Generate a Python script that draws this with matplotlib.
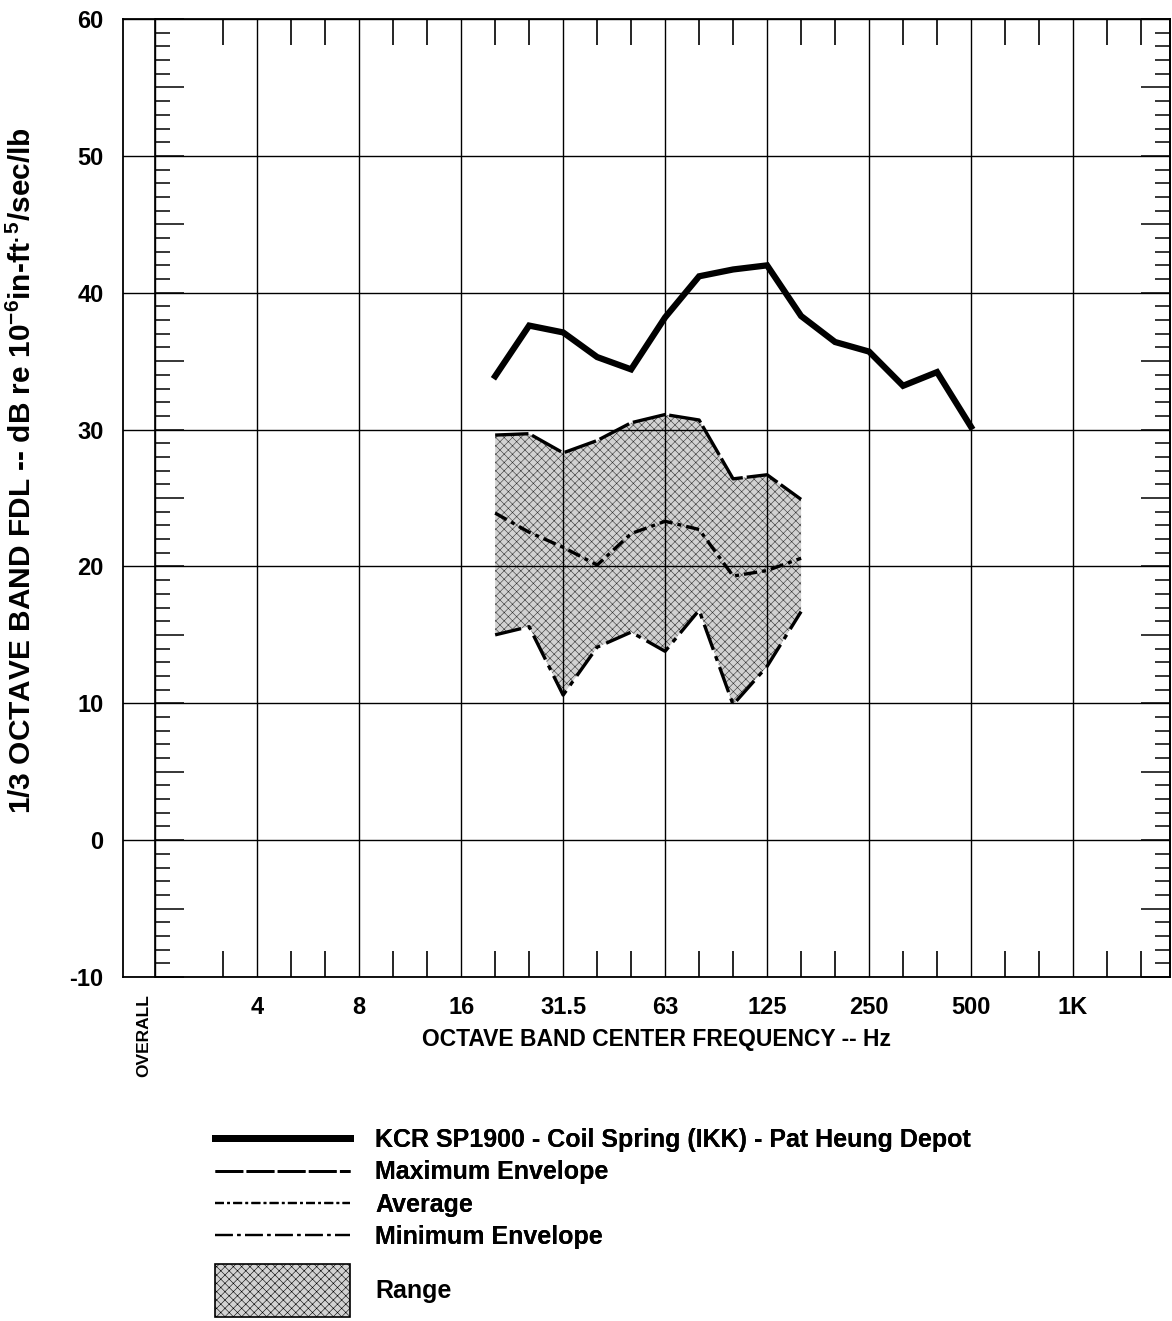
import matplotlib
matplotlib.use("Agg")
import matplotlib.pyplot as plt
import matplotlib.transforms as mtransforms
from matplotlib.lines import Line2D
from matplotlib.patches import Patch
from matplotlib.ticker import MultipleLocator, FixedLocator

plt.rcParams["font.family"] = ["Liberation Sans", "DejaVu Sans"]
plt.rcParams["font.weight"] = "bold"
plt.rcParams["axes.labelweight"] = "bold"
plt.rcParams["axes.unicode_minus"] = False
plt.rcParams["mathtext.fontset"] = "custom"
plt.rcParams["mathtext.rm"] = "Liberation Sans:bold"
plt.rcParams["mathtext.it"] = "Liberation Sans:bold"
plt.rcParams["mathtext.bf"] = "Liberation Sans:bold"
plt.rcParams["hatch.linewidth"] = 0.4

# 1/3 octave band centres, one slot per band (4 Hz is slot 0)
thirds = ["4", "5", "6.3", "8", "10", "12.5", "16", "20", "25", "31.5", "40", "50",
          "63", "80", "100", "125", "160", "200", "250", "315", "400", "500",
          "630", "800", "1K", "1.25K", "1.6K", "2K"]
octave_labels = ["4", "8", "16", "31.5", "63", "125", "250", "500", "1K"]

# KCR SP1900 - coil spring measurement
kcr_freq = ["20", "25", "31.5", "40", "50", "63", "80", "100", "125", "160",
            "200", "250", "315", "400", "500"]
kcr_level = [33.9, 37.6, 37.1, 35.3, 34.4, 38.2, 41.2, 41.7, 42.0, 38.3,
             36.4, 35.7, 33.2, 34.2, 30.2]

# envelope of reference measurements
env_freq = ["20", "25", "31.5", "40", "50", "63", "80", "100", "125", "160"]
max_env = [29.6, 29.7, 28.3, 29.2, 30.5, 31.1, 30.7, 26.4, 26.7, 24.9]
avg_env = [23.9, 22.5, 21.4, 20.1, 22.4, 23.3, 22.7, 19.3, 19.7, 20.6]
min_env = [15.0, 15.6, 10.6, 14.1, 15.2, 13.8, 16.8, 9.9, 12.7, 16.7]

overall_pos = -3
x_kcr = [thirds.index(f) for f in kcr_freq]
x_env = [thirds.index(f) for f in env_freq]
oct_pos = [thirds.index(f) for f in octave_labels]
minor_pos = [-1] + [i for i in range(len(thirds)) if i not in oct_pos and i < 27]

range_face = "#d2d2d2"
range_hatch = "xxxx"

fig = plt.figure(figsize=(11.72, 13.21), dpi=100)
ax = fig.add_axes([0.1049, 0.2604, 0.8933, 0.7252])
xmin, xmax = -3.95, 26.85
ax.set_xlim(xmin, xmax)
ax.set_ylim(-10, 60)

# range band + envelope lines
ax.fill_between(x_env, min_env, max_env, facecolor=range_face, edgecolor="#333333",
                hatch=range_hatch, linewidth=0, zorder=1)
ls_max = (0, (10, 1.2))
ls_avg = (0, (4, 1.5, 1.2, 1.5))
ls_min = (0, (8, 2, 1.5, 2))
ax.plot(x_env, max_env, color="k", lw=2.4, ls=ls_max, zorder=3)
ax.plot(x_env, avg_env, color="k", lw=2.4, ls=ls_avg, zorder=3)
ax.plot(x_env, min_env, color="k", lw=2.4, ls=ls_min, zorder=3)
ax.plot(x_kcr, kcr_level, color="k", lw=4.5, solid_joinstyle="miter", zorder=4)

# grid on octaves and every 10 dB
ax.set_xticks([overall_pos] + oct_pos)
ax.set_xticklabels([""] + octave_labels)
ax.set_yticks(range(-10, 61, 10))
ax.grid(True, color="k", lw=1.0)
ax.set_axisbelow(False)
for sp in ax.spines.values():
    sp.set_linewidth(1.3)

ax.tick_params(axis="both", which="major", length=0, pad=14, labelsize=17)
ax.xaxis.set_minor_locator(FixedLocator(minor_pos))
ax.tick_params(axis="x", which="minor", direction="in", top=True, bottom=True,
               length=19, width=1.2)

trans = mtransforms.blended_transform_factory(ax.transData, ax.transAxes)
ax.text(overall_pos - 0.35, -0.018, "OVERALL", transform=trans, rotation=90,
        ha="center", va="top", fontsize=12.5, fontweight="bold")

# dB scales on the OVERALL line and the right edge
for loc in [(overall_pos - xmin) / (xmax - xmin), 1.0]:
    sec = ax.secondary_yaxis(loc)
    sec.yaxis.set_major_locator(MultipleLocator(5))
    sec.yaxis.set_minor_locator(MultipleLocator(1))
    sec.tick_params(which="both", direction="in", labelleft=False, labelright=False)
    sec.tick_params(which="major", length=21, width=1.1)
    sec.tick_params(which="minor", length=11, width=1.1)
    for sp in sec.spines.values():
        sp.set_linewidth(1.2)

ax.set_xlabel("OCTAVE BAND CENTER FREQUENCY -- Hz", fontsize=16.5, fontweight="bold")
ax.xaxis.set_label_coords(0.51, -0.053)
fig.text(0.019, 1 - 470 / 1321,
         r"1/3 OCTAVE BAND FDL -- dB re 10$^{-6}$in-ft$^{.5}$/sec/lb",
         rotation=90, ha="center", va="center", fontsize=21.5)

line_handles = [
    Line2D([], [], color="k", lw=5),
    Line2D([], [], color="k", lw=2, ls=ls_max),
    Line2D([], [], color="k", lw=1.6, ls=ls_avg),
    Line2D([], [], color="k", lw=1.6, ls=ls_min),
]
line_labels = ["KCR SP1900 - Coil Spring (IKK) - Pat Heung Depot",
               "Maximum Envelope", "Average", "Minimum Envelope"]
leg1 = fig.legend(line_handles, line_labels, loc="upper left",
                  bbox_to_anchor=(0.1834, 0.146), frameon=False, fontsize=18,
                  handlelength=5.4, handletextpad=1.0, labelspacing=0.33,
                  borderpad=0, borderaxespad=0)
fig.add_artist(leg1)
range_handle = Patch(facecolor=range_face, edgecolor="k", hatch=range_hatch, lw=1.2)
fig.legend([range_handle], ["Range"], loc="upper left",
           bbox_to_anchor=(0.1834, 0.043), frameon=False, fontsize=18,
           handlelength=5.4, handleheight=2.9, handletextpad=1.0,
           borderpad=0, borderaxespad=0)

fig.savefig("out.png", dpi=100)
